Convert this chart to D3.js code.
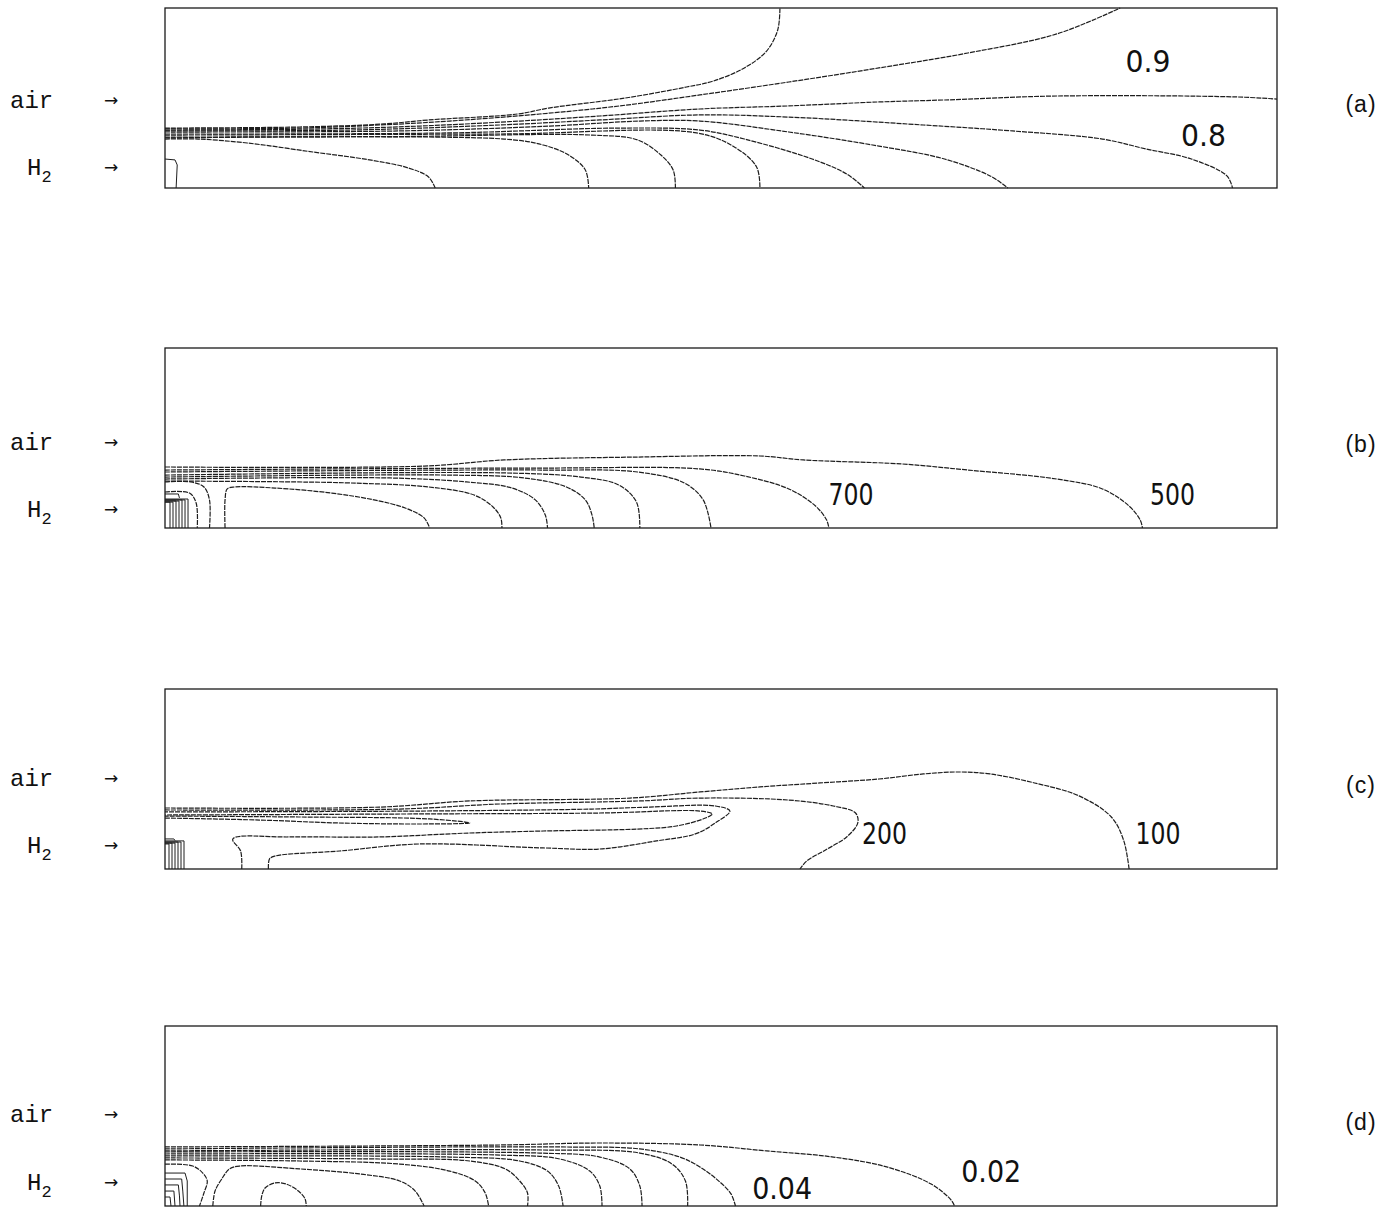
<!DOCTYPE html>
<meta charset="utf-8">
<style>
body { margin: 0; background: #fff; }
.frame { fill: none; stroke: #1a1a1a; stroke-width: 1.3px; }
.iso { fill: none; stroke: #1e1e1e; stroke-width: 1.2px; stroke-dasharray: 5 1; }
.hatch { fill: none; stroke: #1e1e1e; stroke-width: 1px; }
.lev { font-family: "Liberation Sans Narrow", "DejaVu Sans Condensed", "Liberation Sans", sans-serif; font-size: 31px; fill: #111; }
.inlet { font-family: "Liberation Mono", "DejaVu Sans Mono", monospace; font-size: 24px; fill: #111; }
.arrow { font-family: "DejaVu Sans", sans-serif; font-size: 17px; fill: #111; }
.tag { font-family: "Liberation Sans", Arial, sans-serif; font-size: 23px; letter-spacing: 1px; fill: #111; }
</style>
<body>
<script src="https://d3js.org/d3.v7.min.js"></script>
<script>
// contour lines, x = axial position (% of length), y = radial position (% of height)

// (a)
var contoursA = [
  [[0,33.3],[12.1,33.9],[19.7,35.6],[23.7,37.8],[31.7,41.1],[34.5,44.4],[41.4,50.0],[46.9,56.1],[49.3,59.4],[52.1,66.7],[54.1,76.1],[55.1,87.8],[55.3,100]],
  [[0,32.8],[12.1,33.3],[19.3,35.0],[25.6,37.2],[33.7,41.1],[40.9,45.6],[48.1,51.7],[56.1,58.9],[64.2,66.7],[72.2,75.0],[80.2,85.6],[85.9,100]],
  [[0,32.2],[13.9,32.8],[22.9,34.4],[31.9,37.2],[39.1,40.0],[48.1,43.9],[56.1,45.6],[64.2,47.8],[70.1,48.9],[80.2,51.1],[96.3,50.6],[100,49.4]],
  [[0,31.7],[16.6,32.2],[30.1,35.0],[39.1,37.8],[48.1,40.6],[56.1,39.4],[68.2,35.0],[76.2,31.7],[84.3,27.2],[88.2,21.7],[92.3,16.1],[95.5,6.7],[96.0,0]],
  [[0,31.1],[21.1,31.7],[34.6,34.4],[42.7,37.2],[48.1,37.2],[56.1,31.1],[64.2,23.3],[70.1,16.1],[74.2,6.7],[75.8,0]],
  [[0,30.0],[25.6,30.6],[40.9,33.3],[48.1,32.2],[52.1,27.2],[58.2,16.1],[61.3,7.8],[62.9,0]],
  [[0,29.4],[30.1,30.0],[47.8,30.6],[51.2,22.8],[53.2,11.7],[53.5,0]],
  [[0,28.3],[21.1,28.6],[38.4,29.4],[42.5,26.7],[44.6,18.3],[45.7,10.0],[45.9,0]],
  [[0,27.8],[30.5,27.2],[34.0,23.9],[36.3,18.3],[37.8,10.0],[38.1,0]],
  [[0,27.2],[3.0,27.2],[7.4,25.0],[13.3,20.0],[18.4,15.6],[21.9,11.1],[23.7,6.1],[24.3,0]]
];
var hatchA = [
  [[0,16.1],[0.9,15.6],[1.1,12.8],[1.0,0]]
];
var labelsA = [["0.9", 88.4, 70.6], ["0.8", 93.4, 29.5]];

// (b)
var contoursB = [
  [[0,20.0],[2.2,19.4],[2.8,13.9],[2.9,0]],
  [[0,25.6],[2.3,25.6],[3.5,22.8],[4.0,15.6],[4.0,0]],
  [[5.4,0],[5.4,15.6],[5.6,21.7],[6.3,22.8],[9.9,22.2],[15.0,19.4],[18.8,15.6],[21.6,11.1],[23.3,5.6],[23.8,0]],
  [[0,26.1],[11.6,25.6],[16.7,25.0],[23.7,22.8],[27.8,18.3],[29.5,11.7],[30.2,5.6],[30.3,0]],
  [[0,27.2],[20.2,27.8],[27.1,25.6],[31.2,22.2],[33.3,15.6],[34.2,7.2],[34.4,0]],
  [[0,28.3],[25.4,29.4],[32.3,27.8],[36.1,22.8],[37.8,15.6],[38.4,7.2],[38.6,0]],
  [[0,29.4],[30.5,30.6],[37.4,28.3],[40.8,23.9],[42.4,14.4],[42.7,0]],
  [[0,31.1],[34.0,32.2],[42.5,31.1],[46.7,25.0],[48.4,15.6],[49.1,0]],
  [[0,32.2],[33.7,33.3],[48.1,32.8],[52.1,28.9],[56.1,21.7],[58.5,12.2],[59.5,4.4],[59.7,0]],
  [[0,33.9],[23.3,34.4],[30.5,37.8],[42.3,39.4],[53.5,40.0],[57.4,37.8],[66.2,35.6],[72.2,32.2],[80.2,27.2],[84.3,21.7],[86.7,12.2],[87.7,4.4],[87.9,0]]
];
var hatchB = [
  [[0,14.4],[0.45,14.4],[0.45,0]],
  [[0,14.4],[0.72,14.4],[0.72,0]],
  [[0,15.0],[0.99,15.0],[0.99,0]],
  [[0,15.0],[1.26,15.0],[1.26,0]],
  [[0,15.6],[1.53,15.6],[1.53,0]],
  [[0,15.6],[1.80,15.6],[1.80,0]],
  [[0,16.1],[2.07,16.1],[2.07,0]],
  [[0,18.9],[1.2,18.9],[1.3,16.7]]
];
var labelsB = [["700", 61.7, 18.9], ["500", 90.6, 18.9]];

// (c)
var contoursC = [
  [[0,33.9],[19.3,34.4],[27.4,37.8],[41.8,39.4],[48.1,42.8],[53.5,45.6],[58.9,47.8],[64.2,50.0],[68.2,52.8],[71.4,53.9],[74.2,52.8],[78.2,47.8],[82.2,40.6],[85.1,28.9],[86.2,16.1],[86.7,0]],
  [[0,32.8],[21.1,33.3],[30.1,36.1],[42.7,37.8],[48.1,39.4],[56.1,38.3],[60.1,35.0],[62.1,31.1],[62.3,25.6],[61.3,17.8],[59.4,10.6],[57.7,4.4],[57.1,0]],
  [[9.3,0],[9.4,5.6],[9.9,7.2],[15.7,10.0],[22.9,13.9],[34.0,11.7],[39.1,11.1],[44.2,15.6],[47.7,19.5],[49.5,25.6],[50.8,32.2],[49.5,35.0],[43.6,34.4],[38.4,33.3],[22.9,32.2],[0,31.7]],
  [[6.9,0],[6.8,10.0],[6.1,16.7],[11.2,17.8],[19.2,17.8],[27.4,20.0],[34.0,21.1],[42.5,22.2],[46.0,23.9],[48.6,28.3],[49.2,30.6],[48.1,32.2],[39.1,31.1],[22.9,30.6],[0,30.0]],
  [[0,28.3],[8.5,27.2],[15.4,25.6],[22.9,25.0],[27.4,25.6],[23.8,27.8],[12.0,28.9],[0,29.4]]
];
var hatchC = [
  [[0,13.9],[0.36,13.9],[0.36,0]],
  [[0,14.4],[0.63,14.4],[0.63,0]],
  [[0,14.4],[0.90,14.4],[0.90,0]],
  [[0,15.0],[1.17,15.0],[1.17,0]],
  [[0,15.0],[1.44,15.0],[1.44,0]],
  [[0,15.6],[1.71,15.6],[1.71,0]],
  [[0,16.7],[0.8,16.7],[0.9,15.8]]
];
var labelsC = [["200", 64.7, 20.0], ["100", 89.3, 20.0]];

// (d)
var contoursD = [
  [[0,23.3],[2.5,22.2],[3.4,18.3],[3.8,13.9],[3.5,7.2],[3.1,0]],
  [[4.3,0],[4.5,8.3],[5.1,15.0],[5.8,20.6],[6.7,22.2],[12.1,20.6],[17.5,17.8],[21.1,13.9],[22.5,8.3],[23.3,0]],
  [[8.6,0],[8.7,5.6],[9.0,10.0],[9.9,12.8],[10.9,12.2],[12.0,8.3],[12.6,3.9],[12.7,0]],
  [[0,25.6],[12.1,25.0],[21.1,23.3],[25.6,19.4],[27.9,13.9],[28.8,7.2],[29.1,0]],
  [[0,26.7],[19.3,26.1],[27.4,25.0],[30.6,20.6],[31.9,13.9],[32.6,7.2],[32.6,0]],
  [[0,27.8],[25.6,27.2],[31.9,25.0],[34.4,19.4],[35.4,11.1],[35.8,0]],
  [[0,28.9],[30.1,28.3],[35.5,26.1],[38.2,19.4],[39.1,11.1],[39.3,0]],
  [[0,30.0],[33.7,29.4],[39.1,27.2],[41.8,20.6],[42.7,11.1],[42.9,0]],
  [[0,30.6],[34.0,31.1],[42.7,29.4],[45.6,23.3],[46.8,13.9],[47.0,0]],
  [[0,31.7],[35.5,32.8],[42.7,31.7],[46.3,27.2],[48.1,21.7],[49.7,14.4],[50.9,6.7],[51.3,0]],
  [[0,32.8],[30.1,33.9],[39.1,35.0],[48.1,33.9],[54.1,30.6],[60.1,27.2],[64.9,21.7],[68.9,12.2],[70.7,3.3],[71.0,0]]
];
var hatchD = [
  [[0,18.3],[1.8,18.3],[2.0,13.9],[2.0,0]],
  [[0,15.0],[1.5,15.0],[1.6,8.3],[1.7,0]],
  [[0,11.7],[1.2,11.7],[1.3,5.6],[1.35,0]],
  [[0,8.3],[0.8,8.3],[0.9,0]],
  [[0,5.0],[0.45,5.0],[0.54,0]]
];
var labelsD = [["0.02", 74.3, 19.5], ["0.04", 55.5, 10.0]];

var panelNames = ["(a)", "(b)", "(c)", "(d)"];

// layout
var width = 1399,
    height = 1207,
    boxH = 180,
    tops = [8, 348, 689, 1026],
    airBase = [100, 102, 97, 96],
    h2Base = [167, 169, 164, 164];

var panels = [
  {name: panelNames[0], contours: contoursA, hatch: hatchA, labels: labelsA},
  {name: panelNames[1], contours: contoursB, hatch: hatchB, labels: labelsB},
  {name: panelNames[2], contours: contoursC, hatch: hatchC, labels: labelsC},
  {name: panelNames[3], contours: contoursD, hatch: hatchD, labels: labelsD}
];

var svg = d3.select("body").append("svg")
    .attr("width", width)
    .attr("height", height);

var x = d3.scaleLinear()
    .domain([0, 100])
    .range([165, 1277]);

panels.forEach(function(p, i) {
  var top = tops[i];
  var y = d3.scaleLinear()
      .domain([0, 100])
      .range([top + boxH, top]);

  var smooth = d3.line()
      .x(function(d) { return x(d[0]); })
      .y(function(d) { return y(d[1]); })
      .curve(d3.curveCatmullRom.alpha(0.5));
  var straight = d3.line()
      .x(function(d) { return x(d[0]); })
      .y(function(d) { return y(d[1]); });

  var g = svg.append("g");

  g.append("rect")
    .attr("class", "frame")
    .attr("x", x(0))
    .attr("y", y(100))
    .attr("width", x(100) - x(0))
    .attr("height", y(0) - y(100));

  g.selectAll("path.iso")
    .data(p.contours)
    .enter().append("path")
      .attr("class", "iso")
      .attr("d", smooth);

  g.selectAll("path.hatch")
    .data(p.hatch)
    .enter().append("path")
      .attr("class", "hatch")
      .attr("d", straight);

  // level labels: fixed-pitch plotter digits, squeezed to the reference widths
  g.selectAll("text.lev")
    .data(p.labels)
    .enter().append("text")
      .attr("class", "lev")
      .attr("x", function(d) { return x(d[1]); })
      .attr("y", function(d) { return y(d[2]) + 11; })
      .attr("text-anchor", "middle")
      .attr("textLength", function(d) { return d[0].length * 15; })
      .attr("lengthAdjust", "spacingAndGlyphs")
      .text(function(d) { return d[0]; });

  // inlet streams
  g.append("text")
    .attr("class", "inlet")
    .attr("x", 10)
    .attr("y", top + airBase[i])
    .text("air");
  var h2 = g.append("text")
    .attr("class", "inlet")
    .attr("x", 27)
    .attr("y", top + h2Base[i]);
  h2.append("tspan").text("H");
  h2.append("tspan")
    .attr("dy", 7)
    .style("font-size", "17px")
    .text("2");

  g.append("text")
    .attr("class", "arrow")
    .attr("x", 111)
    .attr("y", top + airBase[i] - 2)
    .attr("text-anchor", "middle")
    .text("\u2192");
  g.append("text")
    .attr("class", "arrow")
    .attr("x", 111)
    .attr("y", top + h2Base[i] - 2)
    .attr("text-anchor", "middle")
    .text("\u2192");

  g.append("text")
    .attr("class", "tag")
    .attr("x", 1361)
    .attr("y", top + 104)
    .attr("text-anchor", "middle")
    .text(p.name);
});
</script>
</body>
</html>
